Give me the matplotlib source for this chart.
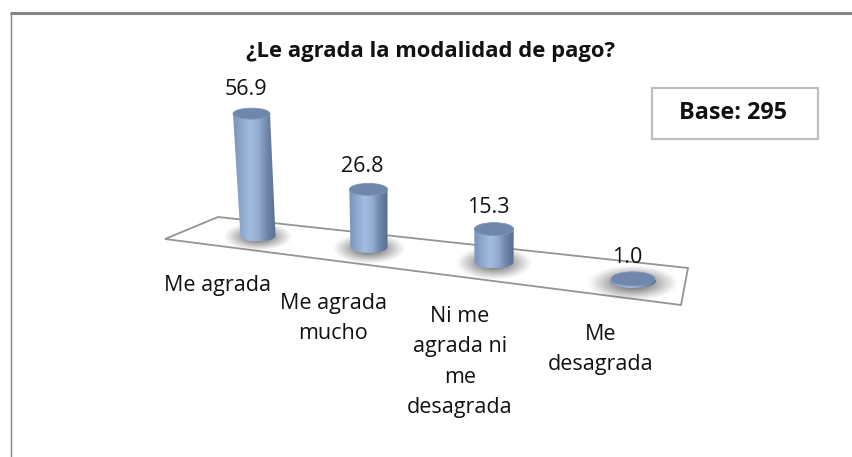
import numpy as np
import matplotlib.pyplot as plt
from matplotlib.colors import LinearSegmentedColormap
from matplotlib.patches import Ellipse, Polygon, Rectangle

title = "¿Le agrada la modalidad de pago?"
categories = ["Me agrada", "Me agrada\nmucho", "Ni me\nagrada ni\nme\ndesagrada", "Me\ndesagrada"]
values = [56.9, 26.8, 15.3, 1.0]
base_text = "Base: 295"

plt.rcParams["font.family"] = ["Open Sans", "DejaVu Sans"]

# the whole figure is one axes in pixel units, y pointing down
fig = plt.figure(figsize=(8.52, 4.57), dpi=100)
ax = fig.add_axes([0, 0, 1, 1])
ax.set_xlim(0, 852)
ax.set_ylim(457, 0)
ax.axis("off")

px_per_unit = 2.15
body_cmap = LinearSegmentedColormap.from_list(
    "body", ["#7b93b9", "#8fa8cf", "#a3bbde", "#93acd2", "#6f86aa", "#586d8e"])
shadow_cmap = LinearSegmentedColormap.from_list(
    "shadow", [(0.42, 0.42, 0.42, 0.0), (0.42, 0.42, 0.42, 0.95)])


def floor_xy(i):
    # perspective of the tilted floor: categories spread out to the right
    return 258 + 104 * i + 7 * i ** 2, 236 + 9 * i + 2 * i ** 2


# frame of the picture
ax.plot([10, 852], [13, 13], color="#868686", lw=2.2, solid_capstyle="butt")
ax.plot([10.5, 10.5], [12, 457], color="#868686", lw=1.0, solid_capstyle="butt")

# floor
ax.add_patch(Polygon([(165, 239), (218, 217), (688, 268), (681, 305)], closed=True,
                     facecolor="white", edgecolor="#949494", lw=1.3, zorder=1))

xx, yy = np.meshgrid(np.linspace(-1, 1, 80), np.linspace(-1, 1, 80))
shadow = np.clip(1.25 - np.sqrt(xx ** 2 + yy ** 2) * 1.25, 0, 1) ** 1.1

for i, (v, label) in enumerate(zip(values, categories)):
    x0, y0 = floor_xy(i)
    h = v * px_per_unit
    lean = -0.053 if i == 0 else (-0.01 if i == 1 else 0)
    x1, y1 = x0 + lean * h, y0 - h
    r_top = 18.5 + 0.6 * i + (1.5 if i == 3 else 0)
    r_bot = 17.5 + 1.0 * i + (2.5 if i == 3 else 0)
    ry = 5.5 + 0.5 * i

    # soft shadow on the floor
    ax.imshow(shadow, cmap=shadow_cmap, extent=(x0 - r_bot * 2.0, x0 + r_bot * 2.0, y0 + ry * 2.8, y0 - ry * 2.3),
              aspect="auto", zorder=2, vmin=0, vmax=1)

    # body with horizontal shading, clipped to the cylinder outline
    t = np.linspace(np.pi, 0, 30)
    outline = [(x1 - r_top, y1)] + [(x0 + r_bot * np.cos(a), y0 + ry * np.sin(a)) for a in t] + [(x1 + r_top, y1)]
    clip = Polygon(outline, closed=True, transform=ax.transData, facecolor="none", edgecolor="none")
    ax.add_patch(clip)
    im = ax.imshow(np.linspace(0, 1, 128).reshape(1, -1), cmap=body_cmap,
                   extent=(min(x0 - r_bot, x1 - r_top), max(x0 + r_bot, x1 + r_top), y0 + ry, y1),
                   aspect="auto", zorder=3)
    im.set_clip_path(clip)

    # top face
    ax.add_patch(Ellipse((x1, y1), 2 * r_top, 2 * ry, facecolor="#6f87ad", edgecolor="#7f95b8", lw=0.6, zorder=4))

    ax.text(x1 - 6, y1 - 24 + i, f"{v:.1f}", ha="center", va="center", fontsize=15.5, color="#111111", zorder=5)

# category labels hang below the floor, lower toward the right
label_x = [218, 333, 460, 601]
label_top = [275, 293, 306, 324]
for lx, ly, label in zip(label_x, label_top, categories):
    ax.text(lx, ly, label, ha="center", va="top", fontsize=15.5, color="#111111", linespacing=1.58, zorder=5)

ax.text(431, 52, title, ha="center", va="center", fontsize=15.8, fontweight="bold", color="#111111")

ax.add_patch(Rectangle((651.5, 87.5), 166, 51, facecolor="white", edgecolor="#bfbfbf", lw=1.6, zorder=1))
ax.text(733, 113, base_text, ha="center", va="center", fontsize=16.8, fontweight="bold", color="#111111", zorder=5)

ax.set_xlim(0, 852)
ax.set_ylim(457, 0)
fig.savefig("out.png", dpi=100)
